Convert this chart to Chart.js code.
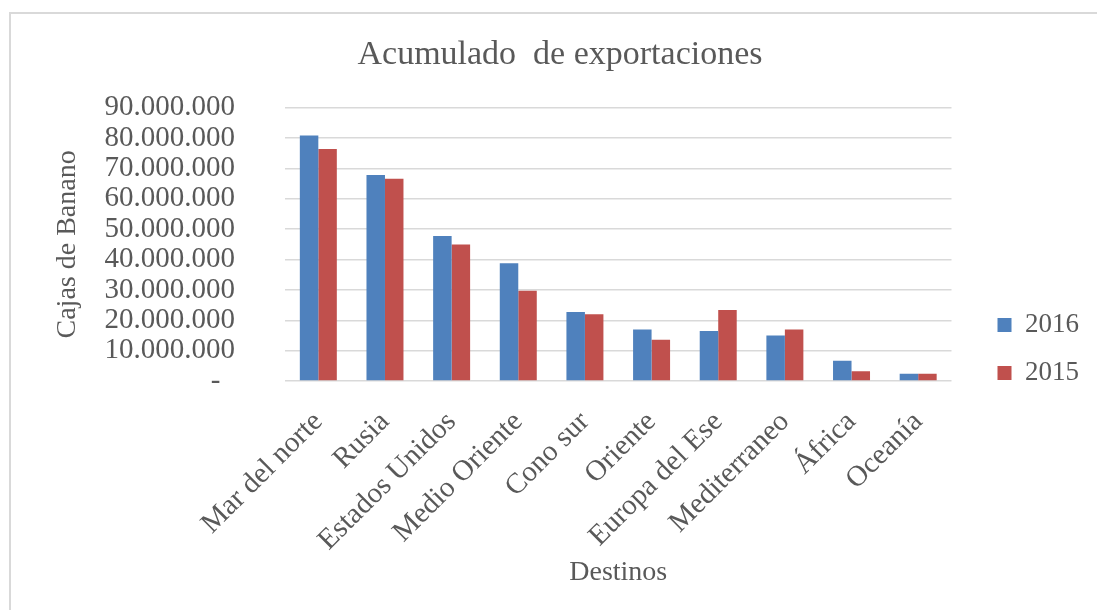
<!DOCTYPE html>
<html>
<head>
<meta charset="utf-8">
<script src="https://cdn.jsdelivr.net/npm/chart.js@4/dist/chart.umd.min.js"></script>
<style>
    html, body { margin: 0; padding: 0; background: #fff; overflow: hidden; }
    #marco {
        position: absolute; left: 9px; top: 12px;
        width: 1200px; height: 700px;
        border: 2px solid #d9d9d9;
    }
    #wrap { position: absolute; left: 0; top: 0; width: 1097px; height: 610px; }
</style>
</head>
<body>
<div id="marco"></div>
<div id="wrap"><canvas id="exportChart" width="1097" height="610"></canvas></div>
<script>
// Datos
const destinos = ["Mar del norte", "Rusia", "Estados Unidos", "Medio Oriente", "Cono sur",
    "Oriente", "Europa del Ese", "Mediterraneo", "África", "Oceanía"];
const cajas2016 = [80900000, 67900000, 47800000, 38800000, 22700000, 17000000, 16500000, 15000000, 6700000, 2400000];
const cajas2015 = [76400000, 66600000, 45000000, 29700000, 22000000, 13600000, 23400000, 17000000, 3200000, 2400000];
const anios = ["2016", "2015"];

const fuente = "'Liberation Serif', 'Times New Roman', serif";
const gris = "#595959";

// Formato de miles con punto, el cero como guion (estilo contable)
function formatoMiles(valor) {
    if (valor === 0) return "-  ";
    return String(Math.round(valor)).replace(/\B(?=(\d{3})+(?!\d))/g, ".");
}

// Mueve la leyenda hasta la altura que tiene en el original
const moverLeyenda = {
    id: "moverLeyenda",
    afterLayout(chart) {
        const leyenda = chart.legend;
        leyenda.top += 44;
        leyenda.bottom += 44;
    }
};

function crearGrafico() {
    const ctx = document.getElementById("exportChart").getContext("2d");

    window.exportChart = new Chart(ctx, {
        type: "bar",
        data: {
            labels: destinos,
            datasets: [
                { label: anios[0], data: cajas2016, backgroundColor: "#4f81bd", borderWidth: 0 },
                { label: anios[1], data: cajas2015, backgroundColor: "#c0504d", borderWidth: 0 }
            ]
        },
        options: {
            responsive: false,
            animation: false,
            layout: { padding: { left: 31, right: 8, top: 0, bottom: 0 } },
            datasets: { bar: { categoryPercentage: 0.555, barPercentage: 1.0 } },
            plugins: {
                tooltip: { enabled: false },
                title: {
                    display: true,
                    text: "Acumulado  de exportaciones",
                    color: gris,
                    font: { family: fuente, size: 34, weight: "normal", lineHeight: 1.2 },
                    padding: { top: 35, bottom: 32 }
                },
                legend: {
                    position: "right",
                    align: "center",
                    labels: {
                        color: gris,
                        font: { family: fuente, size: 27 },
                        boxWidth: 14,
                        boxHeight: 14,
                        padding: 21
                    }
                }
            },
            scales: {
                x: {
                    grid: { display: false, drawTicks: false },
                    border: { display: false },
                    ticks: {
                        color: gris,
                        font: { family: fuente, size: 29 },
                        minRotation: 45,
                        maxRotation: 45,
                        autoSkip: false,
                        padding: 24
                    },
                    title: {
                        display: true,
                        text: "Destinos",
                        color: gris,
                        font: { family: fuente, size: 28, lineHeight: 1.2 },
                        padding: { top: 0, bottom: 21 }
                    },
                    afterFit(scale) { scale.height = 229; }
                },
                y: {
                    min: 0,
                    max: 90000000,
                    grid: { color: "#d9d9d9", lineWidth: 1.5, drawTicks: false },
                    border: { display: false },
                    ticks: {
                        stepSize: 10000000,
                        autoSkip: false,
                        color: gris,
                        font: { family: fuente, size: 29, lineHeight: 1 },
                        padding: 50,
                        callback: (v) => formatoMiles(v)
                    },
                    title: {
                        display: true,
                        text: "Cajas de Banano",
                        color: gris,
                        font: { family: fuente, size: 28, lineHeight: 1.2 },
                        padding: { top: 20, bottom: 0 }
                    },
                    afterFit(scale) { scale.width = 254; }
                },
                // eje vacío: solo deja el hueco entre el área del gráfico y la leyenda
                hueco: {
                    type: "linear",
                    position: "right",
                    display: true,
                    grid: { drawOnChartArea: false, drawTicks: false },
                    border: { display: false },
                    ticks: { display: false },
                    afterFit(scale) { scale.width = 25; }
                }
            }
        },
        plugins: [moverLeyenda]
    });
}

document.addEventListener("DOMContentLoaded", () => {
    crearGrafico();
});
</script>
</body>
</html>
